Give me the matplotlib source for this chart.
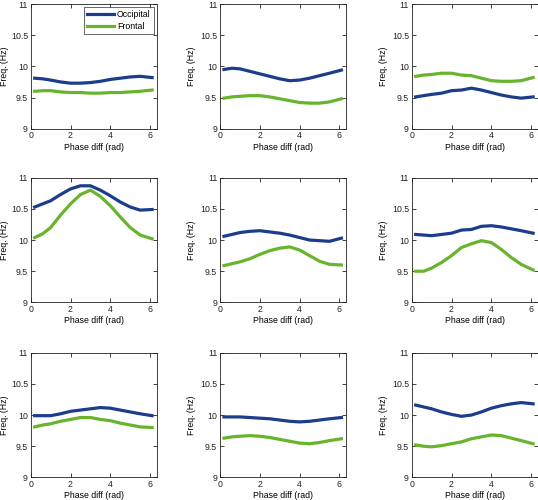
import matplotlib
matplotlib.use("Agg")
import matplotlib.pyplot as plt

plt.rcParams["font.family"] = ["Liberation Sans", "DejaVu Sans"]

BLUE = "#1c3c8c"
GREEN = "#68b42d"

# phase difference sample points (rad)
phase = [0.2, 0.6, 1.0, 1.5, 2.0, 2.5, 3.0, 3.5, 4.0, 4.5, 5.0, 5.5, 6.1]

# occipital / frontal peak frequency per panel (row-major)
occ_1 = [9.81, 9.80, 9.78, 9.75, 9.73, 9.73, 9.74, 9.76, 9.79, 9.81, 9.83, 9.84, 9.82]
fro_1 = [9.60, 9.61, 9.61, 9.59, 9.58, 9.58, 9.57, 9.57, 9.58, 9.58, 9.59, 9.60, 9.62]
occ_2 = [9.95, 9.97, 9.96, 9.92, 9.88, 9.84, 9.80, 9.77, 9.78, 9.81, 9.85, 9.89, 9.94]
fro_2 = [9.49, 9.51, 9.52, 9.53, 9.53, 9.51, 9.48, 9.45, 9.42, 9.41, 9.41, 9.43, 9.48]
occ_3 = [9.51, 9.53, 9.55, 9.57, 9.61, 9.62, 9.65, 9.62, 9.58, 9.54, 9.51, 9.49, 9.51]
fro_3 = [9.84, 9.86, 9.87, 9.89, 9.89, 9.86, 9.85, 9.81, 9.77, 9.76, 9.76, 9.77, 9.82]
occ_4 = [10.53, 10.58, 10.63, 10.73, 10.82, 10.87, 10.87, 10.80, 10.71, 10.61, 10.53, 10.48, 10.49]
fro_4 = [10.04, 10.10, 10.20, 10.40, 10.58, 10.73, 10.80, 10.70, 10.55, 10.37, 10.20, 10.08, 10.02]
occ_5 = [10.06, 10.09, 10.12, 10.14, 10.15, 10.13, 10.11, 10.08, 10.04, 10.00, 9.99, 9.98, 10.03]
fro_5 = [9.59, 9.62, 9.65, 9.70, 9.77, 9.83, 9.87, 9.89, 9.84, 9.75, 9.66, 9.61, 9.60]
occ_6 = [10.09, 10.08, 10.07, 10.09, 10.11, 10.16, 10.17, 10.22, 10.23, 10.21, 10.18, 10.15, 10.11]
fro_6 = [9.50, 9.50, 9.55, 9.64, 9.75, 9.88, 9.94, 9.99, 9.96, 9.85, 9.72, 9.61, 9.52]
occ_7 = [9.99, 9.99, 9.99, 10.02, 10.06, 10.08, 10.10, 10.12, 10.11, 10.08, 10.05, 10.02, 9.99]
fro_7 = [9.81, 9.84, 9.86, 9.90, 9.93, 9.96, 9.96, 9.93, 9.91, 9.87, 9.84, 9.81, 9.80]
occ_8 = [9.97, 9.97, 9.97, 9.96, 9.95, 9.94, 9.92, 9.90, 9.89, 9.90, 9.92, 9.94, 9.96]
fro_8 = [9.63, 9.65, 9.66, 9.67, 9.66, 9.64, 9.61, 9.58, 9.55, 9.54, 9.56, 9.59, 9.62]
occ_9 = [10.16, 10.13, 10.10, 10.05, 10.01, 9.98, 10.00, 10.05, 10.11, 10.15, 10.18, 10.20, 10.18]
fro_9 = [9.52, 9.50, 9.49, 9.51, 9.54, 9.57, 9.62, 9.65, 9.68, 9.67, 9.63, 9.59, 9.54]

occipital = [occ_1, occ_2, occ_3, occ_4, occ_5, occ_6, occ_7, occ_8, occ_9]
frontal = [fro_1, fro_2, fro_3, fro_4, fro_5, fro_6, fro_7, fro_8, fro_9]

xticks = [0, 2, 4, 6]
yticks = [9, 9.5, 10, 10.5, 11]
ytick_labels = ["9", "9.5", "10", "10.5", "11"]

W, H = 538, 500
fig = plt.figure(figsize=(W / 100, H / 100), dpi=100)
fig.patch.set_facecolor("white")

col_left = [30.7, 220, 411.7]   # px
row_top = [4, 177.7, 352.7]     # px
aw, ah = 126, 124.7
FS = 6.3

for i in range(9):
    r, c = divmod(i, 3)
    ax = fig.add_axes([col_left[c] / W, 1 - (row_top[r] + ah) / H, aw / W, ah / H])
    ax.plot(phase, occipital[i], color=BLUE, lw=2.3, label="Occipital")
    ax.plot(phase, frontal[i], color=GREEN, lw=2.3, label="Frontal")
    ax.set_xlim(0, 6.33)
    ax.set_ylim(9, 11)
    ax.set_xticks(xticks)
    ax.set_yticks(yticks)
    ax.set_yticklabels(ytick_labels)
    ax.tick_params(direction="in", top=True, right=True, length=3,
                   width=0.6, labelsize=FS, pad=2, colors="#222222")
    for s in ax.spines.values():
        s.set_linewidth(0.6)
        s.set_color("#222222")
    ax.set_xlabel("Phase diff (rad)", fontsize=FS, labelpad=1.5)
    # first column sits against the figure edge: pull its label in a bit
    ax.set_ylabel("Freq. (Hz)", fontsize=FS, labelpad=1.0 if c == 0 else 3)
    if i == 0:
        leg = ax.legend(loc="upper right", fontsize=FS, frameon=True,
                        fancybox=False, borderpad=0.4, handlelength=3.1,
                        handletextpad=0.3, labelspacing=0.3,
                        borderaxespad=0.3)
        leg.get_frame().set_edgecolor("#222222")
        leg.get_frame().set_linewidth(0.6)

fig.savefig("out.png", dpi=100, facecolor="white")
